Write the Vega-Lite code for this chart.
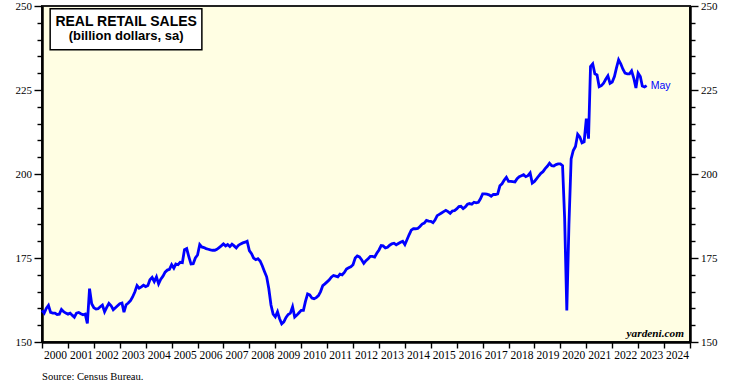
{
"$schema": "https://vega.github.io/schema/vega-lite/v6.json",
"width": 648, "height": 336,
"autosize": {"type": "none"},
"padding": {"left": 42, "top": 6, "right": 41, "bottom": 46},
"background": "white",
"config": {
  "view": {"fill": "#FFFEE3", "stroke": "#222222", "strokeWidth": 2},
  "axis": {"labelFont": "Liberation Serif", "labelFontSize": 11, "labelColor": "#000", "tickColor": "#000", "domainColor": "#000", "domainWidth": 2.5, "tickWidth": 1.4, "grid": false}
},
"title": {"text": "Source: Census Bureau.", "orient": "bottom", "anchor": "start", "frame": "group", "font": "Liberation Serif", "fontSize": 10.6, "fontWeight": "normal", "color": "#000", "offset": 11},
"datasets": {"sales": [
{"d":"2000-01","v":159.4},{"d":"2000-02","v":158.6},{"d":"2000-03","v":160.0},{"d":"2000-04","v":160.9},{"d":"2000-05","v":158.8},{"d":"2000-06","v":158.6},{"d":"2000-07","v":158.6},{"d":"2000-08","v":158.2},{"d":"2000-09","v":158.3},{"d":"2000-10","v":159.7},{"d":"2000-11","v":159.0},{"d":"2000-12","v":158.6},
{"d":"2001-01","v":158.3},{"d":"2001-02","v":158.6},{"d":"2001-03","v":158.0},{"d":"2001-04","v":157.4},{"d":"2001-05","v":158.6},{"d":"2001-06","v":158.8},{"d":"2001-07","v":158.4},{"d":"2001-08","v":158.1},{"d":"2001-09","v":158.3},{"d":"2001-10","v":155.5},{"d":"2001-11","v":165.9},{"d":"2001-12","v":161.4},
{"d":"2002-01","v":160.2},{"d":"2002-02","v":159.8},{"d":"2002-03","v":159.9},{"d":"2002-04","v":160.5},{"d":"2002-05","v":161.0},{"d":"2002-06","v":159.0},{"d":"2002-07","v":160.3},{"d":"2002-08","v":161.5},{"d":"2002-09","v":160.8},{"d":"2002-10","v":159.6},{"d":"2002-11","v":160.2},{"d":"2002-12","v":160.8},
{"d":"2003-01","v":161.4},{"d":"2003-02","v":161.6},{"d":"2003-03","v":158.9},{"d":"2003-04","v":161.1},{"d":"2003-05","v":161.6},{"d":"2003-06","v":162.3},{"d":"2003-07","v":163.4},{"d":"2003-08","v":164.9},{"d":"2003-09","v":166.8},{"d":"2003-10","v":166.0},{"d":"2003-11","v":166.4},{"d":"2003-12","v":166.9},
{"d":"2004-01","v":166.5},{"d":"2004-02","v":166.8},{"d":"2004-03","v":168.5},{"d":"2004-04","v":169.2},{"d":"2004-05","v":168.0},{"d":"2004-06","v":169.4},{"d":"2004-07","v":167.3},{"d":"2004-08","v":168.7},{"d":"2004-09","v":169.6},{"d":"2004-10","v":170.8},{"d":"2004-11","v":171.4},{"d":"2004-12","v":171.6},
{"d":"2005-01","v":173.0},{"d":"2005-02","v":172.0},{"d":"2005-03","v":173.2},{"d":"2005-04","v":173.0},{"d":"2005-05","v":173.7},{"d":"2005-06","v":173.6},{"d":"2005-07","v":177.5},{"d":"2005-08","v":177.8},{"d":"2005-09","v":175.3},{"d":"2005-10","v":173.2},{"d":"2005-11","v":173.3},{"d":"2005-12","v":175.0},
{"d":"2006-01","v":175.9},{"d":"2006-02","v":179.0},{"d":"2006-03","v":178.3},{"d":"2006-04","v":178.1},{"d":"2006-05","v":177.8},{"d":"2006-06","v":177.6},{"d":"2006-07","v":177.4},{"d":"2006-08","v":177.3},{"d":"2006-09","v":177.3},{"d":"2006-10","v":177.6},{"d":"2006-11","v":178.1},{"d":"2006-12","v":178.6},
{"d":"2007-01","v":179.2},{"d":"2007-02","v":178.6},{"d":"2007-03","v":179.0},{"d":"2007-04","v":178.4},{"d":"2007-05","v":179.1},{"d":"2007-06","v":178.6},{"d":"2007-07","v":178.0},{"d":"2007-08","v":178.8},{"d":"2007-09","v":179.2},{"d":"2007-10","v":179.5},{"d":"2007-11","v":179.7},{"d":"2007-12","v":180.0},
{"d":"2008-01","v":177.2},{"d":"2008-02","v":176.3},{"d":"2008-03","v":175.0},{"d":"2008-04","v":174.5},{"d":"2008-05","v":174.8},{"d":"2008-06","v":174.1},{"d":"2008-07","v":172.7},{"d":"2008-08","v":171.0},{"d":"2008-09","v":169.4},{"d":"2008-10","v":165.9},{"d":"2008-11","v":161.0},{"d":"2008-12","v":158.3},
{"d":"2009-01","v":157.5},{"d":"2009-02","v":159.0},{"d":"2009-03","v":157.0},{"d":"2009-04","v":155.4},{"d":"2009-05","v":156.0},{"d":"2009-06","v":157.3},{"d":"2009-07","v":158.2},{"d":"2009-08","v":158.6},{"d":"2009-09","v":160.5},{"d":"2009-10","v":157.4},{"d":"2009-11","v":158.0},{"d":"2009-12","v":158.7},
{"d":"2010-01","v":159.4},{"d":"2010-02","v":159.4},{"d":"2010-03","v":162.0},{"d":"2010-04","v":164.3},{"d":"2010-05","v":164.0},{"d":"2010-06","v":163.1},{"d":"2010-07","v":162.9},{"d":"2010-08","v":163.2},{"d":"2010-09","v":163.8},{"d":"2010-10","v":165.0},{"d":"2010-11","v":166.8},{"d":"2010-12","v":167.3},
{"d":"2011-01","v":167.9},{"d":"2011-02","v":168.5},{"d":"2011-03","v":169.3},{"d":"2011-04","v":169.8},{"d":"2011-05","v":169.6},{"d":"2011-06","v":169.4},{"d":"2011-07","v":170.2},{"d":"2011-08","v":170.0},{"d":"2011-09","v":170.7},{"d":"2011-10","v":171.7},{"d":"2011-11","v":172.1},{"d":"2011-12","v":172.4},
{"d":"2012-01","v":173.0},{"d":"2012-02","v":175.0},{"d":"2012-03","v":175.6},{"d":"2012-04","v":175.3},{"d":"2012-05","v":174.5},{"d":"2012-06","v":173.4},{"d":"2012-07","v":174.2},{"d":"2012-08","v":174.8},{"d":"2012-09","v":175.5},{"d":"2012-10","v":175.5},{"d":"2012-11","v":175.3},{"d":"2012-12","v":176.4},
{"d":"2013-01","v":177.4},{"d":"2013-02","v":178.7},{"d":"2013-03","v":178.6},{"d":"2013-04","v":178.0},{"d":"2013-05","v":178.2},{"d":"2013-06","v":178.8},{"d":"2013-07","v":179.2},{"d":"2013-08","v":179.4},{"d":"2013-09","v":178.9},{"d":"2013-10","v":179.3},{"d":"2013-11","v":179.7},{"d":"2013-12","v":180.0},
{"d":"2014-01","v":179.0},{"d":"2014-02","v":180.5},{"d":"2014-03","v":181.9},{"d":"2014-04","v":183.3},{"d":"2014-05","v":183.7},{"d":"2014-06","v":183.7},{"d":"2014-07","v":183.8},{"d":"2014-08","v":184.4},{"d":"2014-09","v":185.1},{"d":"2014-10","v":185.4},{"d":"2014-11","v":186.2},{"d":"2014-12","v":186.0},
{"d":"2015-01","v":185.9},{"d":"2015-02","v":185.5},{"d":"2015-03","v":186.3},{"d":"2015-04","v":187.6},{"d":"2015-05","v":188.0},{"d":"2015-06","v":188.4},{"d":"2015-07","v":188.8},{"d":"2015-08","v":189.2},{"d":"2015-09","v":188.8},{"d":"2015-10","v":188.3},{"d":"2015-11","v":189.0},{"d":"2015-12","v":189.1},
{"d":"2016-01","v":189.6},{"d":"2016-02","v":190.3},{"d":"2016-03","v":190.4},{"d":"2016-04","v":189.7},{"d":"2016-05","v":190.2},{"d":"2016-06","v":191.0},{"d":"2016-07","v":191.2},{"d":"2016-08","v":191.0},{"d":"2016-09","v":191.6},{"d":"2016-10","v":191.4},{"d":"2016-11","v":191.6},{"d":"2016-12","v":192.6},
{"d":"2017-01","v":194.1},{"d":"2017-02","v":194.1},{"d":"2017-03","v":194.0},{"d":"2017-04","v":193.8},{"d":"2017-05","v":193.4},{"d":"2017-06","v":193.9},{"d":"2017-07","v":193.9},{"d":"2017-08","v":194.1},{"d":"2017-09","v":196.5},{"d":"2017-10","v":197.1},{"d":"2017-11","v":198.2},{"d":"2017-12","v":199.0},
{"d":"2018-01","v":197.8},{"d":"2018-02","v":197.8},{"d":"2018-03","v":197.7},{"d":"2018-04","v":197.6},{"d":"2018-05","v":198.6},{"d":"2018-06","v":199.2},{"d":"2018-07","v":199.5},{"d":"2018-08","v":199.8},{"d":"2018-09","v":199.2},{"d":"2018-10","v":199.5},{"d":"2018-11","v":200.3},{"d":"2018-12","v":197.3},
{"d":"2019-01","v":197.8},{"d":"2019-02","v":198.6},{"d":"2019-03","v":199.4},{"d":"2019-04","v":200.2},{"d":"2019-05","v":200.7},{"d":"2019-06","v":201.6},{"d":"2019-07","v":202.3},{"d":"2019-08","v":203.2},{"d":"2019-09","v":202.5},{"d":"2019-10","v":202.4},{"d":"2019-11","v":202.8},{"d":"2019-12","v":203.0},
{"d":"2020-01","v":203.0},{"d":"2020-02","v":202.5},{"d":"2020-03","v":187.0},{"d":"2020-04","v":159.4},{"d":"2020-05","v":185.0},{"d":"2020-06","v":204.5},{"d":"2020-07","v":207.0},{"d":"2020-08","v":208.2},{"d":"2020-09","v":211.8},{"d":"2020-10","v":211.0},{"d":"2020-11","v":209.3},{"d":"2020-12","v":209.6},
{"d":"2021-01","v":216.5},{"d":"2021-02","v":210.5},{"d":"2021-03","v":232.0},{"d":"2021-04","v":232.8},{"d":"2021-05","v":229.8},{"d":"2021-06","v":229.5},{"d":"2021-07","v":226.0},{"d":"2021-08","v":226.3},{"d":"2021-09","v":227.0},{"d":"2021-10","v":228.2},{"d":"2021-11","v":229.2},{"d":"2021-12","v":227.0},
{"d":"2022-01","v":227.4},{"d":"2022-02","v":229.0},{"d":"2022-03","v":231.5},{"d":"2022-04","v":234.0},{"d":"2022-05","v":232.8},{"d":"2022-06","v":231.2},{"d":"2022-07","v":230.0},{"d":"2022-08","v":229.8},{"d":"2022-09","v":229.8},{"d":"2022-10","v":230.7},{"d":"2022-11","v":228.5},{"d":"2022-12","v":225.6},
{"d":"2023-01","v":230.0},{"d":"2023-02","v":229.0},{"d":"2023-03","v":226.2},{"d":"2023-04","v":225.9},{"d":"2023-05","v":226.3}
],
"one": [{"n": 1}]},
"layer": [
  {"data": {"name": "sales"},
   "mark": {"type": "line", "color": "#0000FF", "strokeWidth": 2.8},
   "encoding": {
     "x": {"field": "d", "type": "temporal",
       "scale": {"type": "utc", "domain": [946684800000, 1735689600000]},
       "axis": {"orient": "bottom", "title": null,
         "values": [946684800000,978307200000,1009843200000,1041379200000,1072915200000,1104537600000,1136073600000,1167609600000,1199145600000,1230768000000,1262304000000,1293840000000,1325376000000,1356998400000,1388534400000,1420070400000,1451606400000,1483228800000,1514764800000,1546300800000,1577836800000,1609459200000,1640995200000,1672531200000,1704067200000,1735689600000],
         "labelExpr": "utcyear(datum.value) < 2025 ? '' + utcyear(datum.value) : ''",
         "labelFont": "Liberation Serif", "labelOffset": 13, "labelAlign": "center", "tickSize": 6, "labelPadding": 1, "labelFontSize": 11.5,
         "labelFlush": false, "labelOverlap": false, "labelBound": false}},
     "y": {"field": "v", "type": "quantitative", "scale": {"domain": [150, 250], "nice": false, "zero": false},
       "axis": {"orient": "left", "title": null, "labelFont": "Liberation Serif", "values": [150, 175, 200, 225, 250], "tickSize": 8, "labelPadding": 2.5}}}},
  {"data": {"name": "sales"},
   "mark": {"type": "line", "opacity": 0},
   "encoding": {
     "x": {"field": "d", "type": "temporal", "axis": null},
     "y": {"field": "v", "type": "quantitative",
     "axis": {"orient": "left", "title": null, "values": [155, 160, 165, 170, 180, 185, 190, 195, 205, 210, 215, 220, 230, 235, 240, 245], "tickSize": 5, "labels": false, "domain": false}}}},
  {"data": {"name": "sales"},
   "mark": {"type": "line", "opacity": 0},
   "encoding": {
     "x": {"field": "d", "type": "temporal", "axis": null},
     "y": {"field": "v", "type": "quantitative",
     "axis": {"orient": "right", "title": null, "labelFont": "Liberation Serif", "values": [150, 175, 200, 225, 250], "tickSize": 8, "labelPadding": 2.5}}}},
  {"data": {"name": "sales"},
   "mark": {"type": "line", "opacity": 0},
   "encoding": {
     "x": {"field": "d", "type": "temporal", "axis": null},
     "y": {"field": "v", "type": "quantitative",
     "axis": {"orient": "right", "title": null, "values": [155, 160, 165, 170, 180, 185, 190, 195, 205, 210, 215, 220, 230, 235, 240, 245], "tickSize": 5, "labels": false, "domain": false}}}},
  {"data": {"name": "one"},
   "mark": {"type": "rect", "fill": "white", "stroke": "#000", "strokeWidth": 1.5},
   "encoding": {
     "x": {"datum": {"year": 2000, "month": 4, "date": 25, "utc": true}, "type": "temporal", "axis": null},
     "x2": {"datum": {"year": 2006, "month": 3, "date": 3, "utc": true}},
     "y": {"datum": 249.2, "type": "quantitative", "axis": null},
     "y2": {"datum": 237.0}}},
  {"data": {"name": "one"},
   "mark": {"type": "text", "text": "REAL RETAIL SALES", "font": "Liberation Sans", "fontWeight": "bold", "fontSize": 14, "align": "center", "baseline": "middle", "color": "#000"},
   "encoding": {
     "x": {"datum": {"year": 2003, "month": 4, "date": 1, "utc": true}, "type": "temporal", "axis": null},
     "y": {"datum": 245.1, "type": "quantitative", "axis": null}}},
  {"data": {"name": "one"},
   "mark": {"type": "text", "text": "(billion dollars, sa)", "font": "Liberation Sans", "fontWeight": "bold", "fontSize": 13, "align": "center", "baseline": "middle", "color": "#000"},
   "encoding": {
     "x": {"datum": {"year": 2003, "month": 4, "date": 1, "utc": true}, "type": "temporal", "axis": null},
     "y": {"datum": 241.2, "type": "quantitative", "axis": null}}},
  {"data": {"name": "one"},
   "mark": {"type": "text", "text": "yardeni.com", "font": "Liberation Serif", "fontWeight": "bold", "fontStyle": "italic", "fontSize": 11.3, "align": "right", "baseline": "alphabetic", "dx": -6, "dy": -5, "color": "#000"},
   "encoding": {
     "x": {"datum": {"year": 2025, "utc": true}, "type": "temporal", "axis": null},
     "y": {"datum": 150, "type": "quantitative", "axis": null}}},
  {"data": {"name": "sales"},
   "transform": [{"filter": {"field": "d", "equal": {"year": 2023, "month": 5, "date": 1, "utc": true}}}],
   "mark": {"type": "text", "text": "May", "font": "Liberation Sans", "fontSize": 10.5, "align": "left", "baseline": "middle", "dx": 4, "color": "#0000FF"},
   "encoding": {
     "x": {"field": "d", "type": "temporal", "axis": null},
     "y": {"field": "v", "type": "quantitative", "axis": null}}}
],
"resolve": {"axis": {"x": "independent", "y": "independent"}}
}
